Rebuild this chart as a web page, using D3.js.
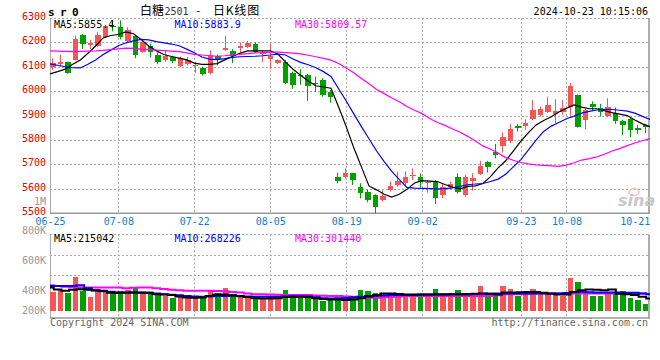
<!DOCTYPE html>
<html><head><meta charset="utf-8">
<script src="https://cdn.jsdelivr.net/npm/d3@7"></script>
<style>
body{margin:0;background:#fff;}
svg{display:block;}
text{font-family:"DejaVu Sans Mono",monospace;font-size:10px;}
</style></head><body>
<svg id="c" width="660" height="360"></svg>
<script>
const dates = [
"2024-06-25","2024-06-26","2024-06-27","2024-06-28",
"2024-07-01","2024-07-02","2024-07-03","2024-07-04","2024-07-05",
"2024-07-08","2024-07-09","2024-07-10","2024-07-11","2024-07-12",
"2024-07-15","2024-07-16","2024-07-17","2024-07-18","2024-07-19",
"2024-07-22","2024-07-23","2024-07-24","2024-07-25","2024-07-26",
"2024-07-29","2024-07-30","2024-07-31","2024-08-01","2024-08-02",
"2024-08-05","2024-08-06","2024-08-07","2024-08-08","2024-08-09",
"2024-08-12","2024-08-13","2024-08-14","2024-08-15","2024-08-16",
"2024-08-19","2024-08-20","2024-08-21","2024-08-22","2024-08-23",
"2024-08-26","2024-08-27","2024-08-28","2024-08-29","2024-08-30",
"2024-09-02","2024-09-03","2024-09-04","2024-09-05","2024-09-06",
"2024-09-09","2024-09-10","2024-09-11","2024-09-12","2024-09-13",
"2024-09-18","2024-09-19","2024-09-20",
"2024-09-23","2024-09-24","2024-09-25","2024-09-26","2024-09-27",
"2024-09-30",
"2024-10-08","2024-10-09","2024-10-10","2024-10-11",
"2024-10-14","2024-10-15","2024-10-16","2024-10-17","2024-10-18",
"2024-10-21","2024-10-22","2024-10-23"];

const opens = [6101,6110,6119,6128,6231,6191,6185,6222,6268,6262,
6205,6224,6162,6183,6149,6128,6138,6104,6112,6106,
6093,6074,6145,6170,6165,6176,6181,6194,6151,6132,
6115,6121,6073,6067,6067,6033,6044,5996,5650,5650,
5664,5606,5589,5575,5555,5596,5616,5623,5651,5650,
5623,5630,5575,5609,5650,5576,5634,5661,5708,5749,
5777,5798,5857,5859,5885,5903,5913,5907,5913,5934,
5985,5880,5948,5930,5899,5910,5876,5887,5851,5860];
const highs = [6134,6149,6121,6227,6235,6210,6243,6272,6292,6290,
6262,6228,6212,6194,6158,6168,6145,6141,6140,6120,
6100,6167,6150,6227,6172,6199,6206,6200,6167,6194,
6131,6128,6080,6090,6070,6060,6053,6005,5666,5684,
5666,5623,5596,5578,5595,5630,5670,5671,5684,5663,
5636,5636,5623,5630,5664,5657,5664,5715,5715,5784,
5831,5866,5865,5885,5964,5937,5978,5967,5964,6033,
5987,5930,5958,5948,5971,5933,5883,5890,5862,5866];
const lows = [6087,6101,6072,6125,6173,6172,6180,6218,6245,6212,
6200,6135,6158,6138,6110,6121,6115,6098,6105,6074,
6064,6069,6105,6165,6115,6158,6176,6156,6119,6090,
6110,6029,6010,6026,5960,5996,5978,5953,5623,5643,
5616,5561,5545,5500,5548,5589,5609,5616,5636,5606,
5585,5538,5561,5598,5581,5568,5593,5657,5667,5725,
5749,5787,5835,5842,5882,5896,5910,5869,5903,5899,
5851,5844,5919,5896,5893,5866,5821,5811,5825,5828];
const closes = [6117,6121,6076,6214,6194,6199,6232,6268,6262,6222,
6250,6150,6200,6162,6121,6145,6124,6137,6126,6109,
6069,6150,6132,6178,6145,6183,6199,6162,6161,6146,
6128,6035,6027,6061,6023,6029,5985,5978,5634,5664,
5636,5585,5555,5527,5571,5612,5634,5650,5657,5630,
5627,5561,5606,5622,5589,5650,5646,5695,5690,5740,
5814,5846,5848,5870,5921,5928,5944,5917,5930,6022,
5855,5921,5937,5914,5937,5876,5862,5839,5843,5856];

const volumes = [401000,412000,394000,501000,405000,368000,412000,412000,394000,408000,
416000,430000,394000,394000,383000,374000,361000,379000,368000,368000,
368000,412000,394000,428000,383000,368000,368000,368000,356000,368000,
361000,412000,368000,361000,385000,350000,341000,356000,356000,368000,
356000,412000,405000,396000,390000,396000,390000,374000,374000,374000,
385000,419000,385000,374000,412000,390000,383000,441000,385000,374000,
441000,419000,374000,390000,419000,396000,390000,383000,374000,494000,
468000,405000,374000,374000,390000,385000,405000,361000,345000,319000];

const ma5 = [6071,6080,6090,6110,6128,6155,6185,6218,6228,6232,
6243,6235,6212,6185,6165,6150,6142,6135,6128,6115,
6110,6110,6113,6128,6142,6155,6165,6165,6165,6165,
6152,6120,6090,6065,6042,6022,6017,6012,5935,5855,
5768,5690,5612,5596,5578,5566,5578,5598,5624,5634,
5632,5630,5618,5607,5600,5610,5612,5622,5650,5686,
5715,5755,5795,5830,5862,5880,5895,5915,5930,5944,
5935,5928,5928,5920,5912,5906,5900,5882,5866,5855];
const ma10 = [6112,6106,6100,6096,6095,6110,6128,6150,6168,6186,
6198,6206,6212,6210,6203,6198,6193,6186,6172,6157,
6140,6131,6129,6133,6138,6141,6142,6143,6145,6148,
6152,6148,6132,6118,6108,6096,6080,6060,6010,5960,
5907,5855,5805,5755,5712,5672,5638,5606,5603,5602,
5601,5600,5601,5604,5610,5617,5620,5622,5630,5640,
5660,5690,5720,5760,5800,5835,5857,5872,5887,5898,
5910,5917,5923,5926,5925,5922,5918,5910,5897,5884];
const ma30 = [6165,6164,6163,6162,6163,6164,6165,6167,6170,6173,
6176,6175,6172,6170,6168,6166,6164,6162,6157,6151,
6148,6145,6143,6145,6149,6151,6154,6157,6158,6160,
6160,6158,6156,6153,6147,6141,6134,6127,6113,6095,
6075,6052,6030,6007,5990,5972,5957,5937,5922,5908,
5888,5872,5860,5845,5832,5815,5796,5776,5762,5747,
5728,5717,5708,5702,5698,5696,5694,5692,5697,5707,
5718,5724,5731,5742,5755,5765,5777,5788,5797,5806];

const vma5 = [430000,416000,408000,414000,418000,415000,410000,408000,395000,392000,
394000,396000,396000,394000,385000,383000,380000,370000,362000,361000,
362000,372000,382000,382000,378000,372000,366000,358000,356000,356000,
358000,366000,368000,368000,368000,358000,352000,350000,349000,346000,
350000,357000,370000,378000,390000,390000,386000,383000,383000,383000,
383000,383000,383000,385000,385000,385000,388000,390000,386000,383000,
396000,396000,398000,400000,399000,394000,388000,383000,383000,400000,
412000,416000,414000,412000,416000,388000,384000,380000,368000,356000];
const vma10 = [439000,439000,439000,440000,444000,425000,412000,405000,401000,398000,
396000,396000,395000,394000,390000,385000,381000,378000,372000,369000,
368000,370000,372000,372000,372000,371000,369000,368000,368000,368000,
368000,370000,371000,370000,368000,364000,358000,356000,357000,360000,
365000,368000,372000,374000,376000,379000,379000,379000,379000,382000,
383000,384000,385000,385000,385000,385000,386000,388000,390000,390000,
390000,390000,390000,390000,390000,390000,390000,390000,392000,398000,
401000,398000,396000,396000,396000,396000,395000,394000,390000,384000];
const vma30 = [445000,440000,434000,431000,430000,430000,430000,430000,430000,430000,
424000,428000,430000,430000,425000,419000,414000,411000,408000,408000,
408000,408000,407000,405000,400000,396000,390000,385000,384000,383000,
381000,379000,379000,379000,379000,376000,374000,373000,372000,369000,
367000,362000,361000,361000,364000,368000,370000,372000,372000,372000,
372000,372000,372000,372000,372000,372000,372000,372000,372000,378000,
384000,385000,385000,387000,390000,390000,390000,390000,390000,390000,
390000,390000,390000,390000,390000,390000,390000,390000,389000,386000];

const priceTicks = [5500,5600,5700,5800,5900,6000,6100,6200,6300];
const volTicks = [1000000,800000,600000,400000,200000];
const dateTicks = ["2024-06-25","2024-07-08","2024-07-22","2024-08-05","2024-08-19","2024-09-02","2024-09-23","2024-10-08","2024-10-21"];
const gridDates = ["2024-07-08","2024-07-22","2024-08-05","2024-08-19","2024-09-02","2024-09-23","2024-10-08"];
const priceMaText = ["MA5:5855.4","MA10:5883.9","MA30:5809.57"];
const volMaText = ["MA5:215042","MA10:268226","MA30:301440"];
const maColors = ["#000000","#0000ff","#ff00ff"];

const RED = "#f65555", GREEN = "#00a000";
const L = 50, R = 650, pTop = 17.9, pBot = 213.3, vTop = 234.3, vBot = 318, vBase = 311;

const svg = d3.select("#c");
const xBand = d3.scaleBand().domain(dates).range([L, R]);
const xPt = d3.scalePoint().domain(dates).range([L, R]);
const yP = d3.scaleLinear().domain([5500, 6300]).range([pBot, pTop]);
const yV = d3.scaleLinear().domain([272000, 1000000]).range([vBase, 202.5]);
const bw = 5.5;

// grids
const g = svg.append("g");
g.selectAll(".hp").data(priceTicks.filter(t => t > 5500)).join("line")
  .attr("x1", L).attr("x2", R).attr("y1", d => Math.round(yP(d)) + 0.5).attr("y2", d => Math.round(yP(d)) + 0.5)
  .attr("stroke", "#aaa").attr("stroke-dasharray", "2,2");
g.selectAll(".vp").data(gridDates).join("line")
  .attr("x1", d => Math.round(xPt(d)) + 0.5).attr("x2", d => Math.round(xPt(d)) + 0.5)
  .attr("y1", pTop).attr("y2", pBot).attr("stroke", "#aaa").attr("stroke-dasharray", "2,2");
g.selectAll(".vv").data(gridDates).join("line")
  .attr("x1", d => Math.round(xPt(d)) + 0.5).attr("x2", d => Math.round(xPt(d)) + 0.5)
  .attr("y1", vTop).attr("y2", vBot).attr("stroke", "#aaa").attr("stroke-dasharray", "2,2");
g.selectAll(".hv").data([234.5, 255.5, 275.5]).join("line")
  .attr("x1", L).attr("x2", R).attr("y1", d => d).attr("y2", d => d)
  .attr("stroke", "#aaa").attr("stroke-dasharray", "2,2");

// borders
const border = (x1, y1, x2, y2, w, c) => svg.append("line").attr("x1", x1).attr("y1", y1).attr("x2", x2).attr("y2", y2)
  .attr("stroke", c).attr("stroke-width", w);
border(50.5, pTop, 50.5, pBot, 1, "#aaa");
border(50.5, vTop, 50.5, vBot, 1, "#aaa");
border(649, pTop, 649, pBot + 0.6, 1.6, "#999");
border(649, vTop, 649, vBot + 0.6, 1.6, "#999");
border(L, pBot, R, pBot, 1.4, "#999");
border(L, vBot, R, vBot, 1.4, "#999");

// candles
const cg = svg.append("g");
cg.selectAll("line").data(dates).join("line")
  .attr("x1", d => Math.floor(xBand(d) + bw / 2) + 0.5).attr("x2", d => Math.floor(xBand(d) + bw / 2) + 0.5)
  .attr("y1", (d, i) => yP(highs[i])).attr("y2", (d, i) => yP(lows[i]))
  .attr("stroke", (d, i) => closes[i] >= opens[i] ? RED : GREEN).attr("stroke-width", 1);
cg.selectAll("rect").data(dates).join("rect")
  .attr("x", d => xBand(d)).attr("width", bw)
  .attr("y", (d, i) => yP(Math.max(opens[i], closes[i])))
  .attr("height", (d, i) => Math.max(1.2, yP(Math.min(opens[i], closes[i])) - yP(Math.max(opens[i], closes[i]))))
  .attr("fill", (d, i) => closes[i] >= opens[i] ? RED : GREEN)
  .attr("shape-rendering", "crispEdges");

// price MA lines
const pLine = d3.line().x((d, i) => xPt(dates[i])).y(d => yP(d));
[ma5, ma10, ma30].forEach((arr, k) => {
  svg.append("path").datum(arr).attr("d", pLine).attr("fill", "none")
    .attr("stroke", maColors[k]).attr("stroke-width", 1.2);
});

// volume bars
svg.append("g").selectAll("rect").data(dates).join("rect")
  .attr("x", d => xBand(d)).attr("width", bw)
  .attr("y", (d, i) => yV(volumes[i])).attr("height", (d, i) => vBase - yV(volumes[i]))
  .attr("fill", (d, i) => closes[i] >= opens[i] ? RED : GREEN)
  .attr("shape-rendering", "crispEdges");

// volume MA lines
const vLine = d3.line().x((d, i) => xPt(dates[i])).y(d => yV(d)).curve(d3.curveStep);
[vma30, vma10, vma5].forEach((arr, k) => {
  svg.append("path").datum(arr).attr("d", vLine).attr("fill", "none")
    .attr("stroke", maColors[2 - k]).attr("stroke-width", 2);
});

// price axis
const pAxis = svg.append("g").attr("transform", "translate(46,0)")
  .call(d3.axisLeft(yP).tickValues(priceTicks).tickSize(0).tickPadding(0).tickFormat(d3.format("d")));
pAxis.select(".domain").remove();
pAxis.selectAll("text").attr("fill", "#e00000").attr("dy", "0.15em")
  .style("font-family", '"DejaVu Sans Mono",monospace').style("font-size", "10px");

// volume axis
const vFmt = v => v >= 1000000 ? (v / 1000000) + "M" : (v / 1000) + "K";
const vAxis = svg.append("g").attr("transform", "translate(46,0)")
  .call(d3.axisLeft(yV).tickValues(volTicks).tickSize(0).tickPadding(0).tickFormat(vFmt));
vAxis.select(".domain").remove();
vAxis.selectAll(".tick").filter(d => yV(d) > 312.5).attr("transform", "translate(0,312.5)");
vAxis.selectAll("text").attr("fill", "#999").attr("dy", "0.15em")
  .style("font-family", '"DejaVu Sans Mono",monospace').style("font-size", "10px");

// date axis
const dAxis = svg.append("g").attr("transform", `translate(0,${pBot})`)
  .call(d3.axisBottom(xPt).tickValues(dateTicks).tickSize(0).tickPadding(4.6).tickFormat(d => d.slice(5)));
dAxis.select(".domain").remove();
dAxis.selectAll("text").attr("fill", "#0a80d0")
  .style("font-family", '"DejaVu Sans Mono",monospace').style("font-size", "10px");

// MA legends
const maX = [54, 174.5, 295];
priceMaText.forEach((t, k) => svg.append("text").attr("x", maX[k]).attr("y", 27.5).attr("fill", maColors[k]).text(t));
volMaText.forEach((t, k) => svg.append("text").attr("x", maX[k]).attr("y", 242).attr("fill", maColors[k]).text(t));

// header
svg.append("text").attr("x", 48).attr("y", 15.5).style("font-size", "11px").style("font-weight", "bold")
  .attr("letter-spacing", "5.4").attr("fill", "#000").text("sr0");
const cjk = '"Noto Sans CJK SC",sans-serif';
svg.append("text").attr("x", 140).attr("y", 15).style("font-family", cjk).style("font-size", "12px").attr("fill", "#000").text("白糖");
svg.append("text").attr("x", 164.5).attr("y", 15).style("font-size", "10px").attr("fill", "#333").text("2501");
svg.append("text").attr("x", 196.5).attr("y", 15).style("font-family", cjk).style("font-size", "11px").attr("fill", "#000").text("-");
svg.append("text").attr("x", 213).attr("y", 15).style("font-family", cjk).style("font-size", "12px").attr("fill", "#000")
  .attr("letter-spacing", "0.8").text("日K线图");
svg.append("text").attr("x", 648).attr("y", 15).attr("text-anchor", "end").attr("fill", "#000").text("2024-10-23 10:15:06");

// footer
svg.append("text").attr("x", 50).attr("y", 326).attr("fill", "#666").text("Copyright 2024 SINA.COM");
svg.append("text").attr("x", 648).attr("y", 326).attr("text-anchor", "end").attr("fill", "#666").text("http://finance.sina.com.cn");

// watermark
svg.append("ellipse").attr("cx", 634).attr("cy", 192).attr("rx", 5).attr("ry", 3.5)
  .attr("fill", "none").attr("stroke", "#f2c4c4").attr("stroke-width", 1.5);
svg.append("text").attr("x", 618).attr("y", 206).style("font-family", '"DejaVu Sans",sans-serif')
  .style("font-size", "16px").style("font-style", "italic").style("font-weight", "bold")
  .attr("fill", "#c8c8c8").text("sina");
</script>
</body></html>
